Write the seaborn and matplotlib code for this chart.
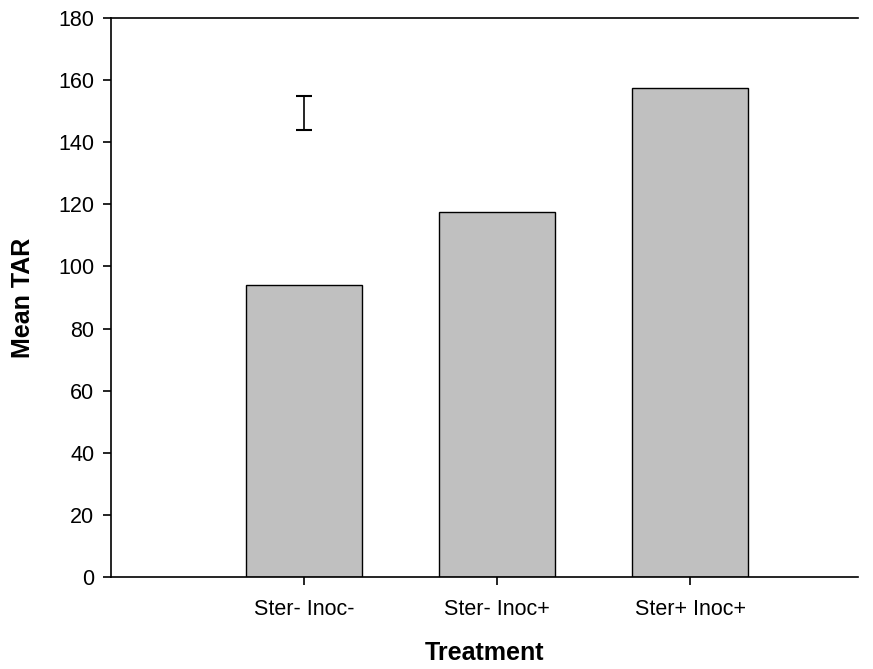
import matplotlib
matplotlib.use("Agg")
import matplotlib.pyplot as plt
import seaborn as sns
import pandas as pd

# Treatment groups and their mean TAR
treatments = ["Ster- Inoc-", "Ster- Inoc+", "Ster+ Inoc+"]
mean_tar = [94, 117.5, 157.5]

# Representative standard-error bar shown above the first group
se_center = 149.5
se_half = 5.5

y_ticks = [0, 20, 40, 60, 80, 100, 120, 140, 160, 180]

sns.set_style("ticks")
plt.rcParams["font.family"] = ["Liberation Sans", "DejaVu Sans"]

df = pd.DataFrame({"Treatment": treatments, "Mean TAR": mean_tar})

fig = plt.figure(figsize=(8.73, 6.69), dpi=100)
ax = fig.add_axes([0.1271, 0.1375, 0.8557, 0.8356])

sns.barplot(data=df, x="Treatment", y="Mean TAR", color="#c0c0c0",
            saturation=1, width=0.6, edgecolor="black", linewidth=1.0,
            errorbar=None, ax=ax)

ax.errorbar([0], [se_center], yerr=[se_half], fmt="none", ecolor="black",
            elinewidth=1.2, capsize=5.8, capthick=1.5)

ax.set_xlim(-1.0, 2.87)
ax.set_ylim(0, 180)
ax.set_yticks(y_ticks)

for side in ["left", "bottom", "top"]:
    ax.spines[side].set_visible(True)
    ax.spines[side].set_color("black")
    ax.spines[side].set_linewidth(1.2)
ax.spines["right"].set_visible(False)

ax.tick_params(axis="both", direction="out", length=6, width=1.2,
               colors="black", labelsize=15.5)
ax.tick_params(axis="x", pad=10)
ax.tick_params(axis="y", pad=6)

ax.set_xlabel("Treatment", fontsize=18, fontweight="bold", labelpad=15,
              color="black")
ax.set_ylabel("Mean TAR", fontsize=18, fontweight="bold", labelpad=17,
              color="black")

fig.savefig("out.png", dpi=100)
